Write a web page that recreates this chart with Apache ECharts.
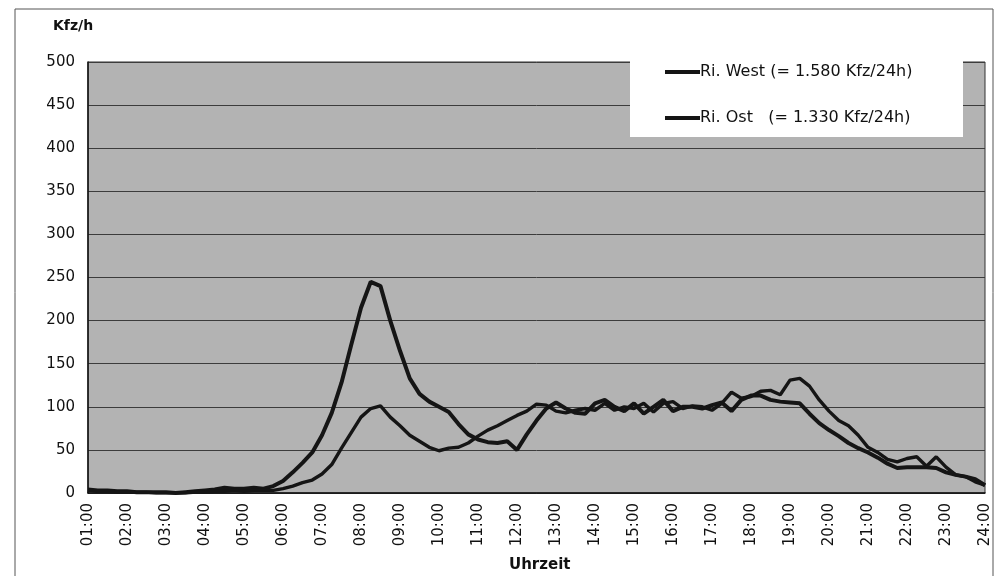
<!DOCTYPE html>
<html>
<head>
<meta charset="utf-8">
<script src="https://cdn.jsdelivr.net/npm/echarts@6/dist/echarts.min.js"></script>
<style>html,body{margin:0;padding:0;background:#fff}#c{width:1001px;height:581px}</style>
</head>
<body>
<div id="c"></div>
<script>
// 15-minute steps from 01:00 to 24:00
const times = [];
for (let h = 1; h <= 24; h++) {
  for (let q = 0; q < 4; q++) {
    if (h === 24 && q > 0) break;
    times.push(String(h).padStart(2, '0') + ':' + String(q * 15).padStart(2, '0'));
  }
}
const yTicks = [0, 50, 100, 150, 200, 250, 300, 350, 400, 450, 500];

const west = [
  4, 3, 3, 2, 2, 1, 1, 1, 1, 0, 1, 2, 3, 4, 6, 5, 5, 6, 5, 8,
  14, 24, 35, 47, 67, 93, 128, 172, 215, 245, 240, 200, 165, 133, 115, 106, 100, 94, 80, 68,
  62, 59, 58, 60, 50, 68, 84, 98, 105, 98, 93, 92, 104, 108, 100, 95, 104, 92, 100, 108,
  95, 100, 100, 98, 102, 105, 95, 108, 113, 113, 108, 106, 105, 104, 92, 81,
  73, 66, 58, 52, 47, 41, 34, 29, 30, 30, 30, 29, 24, 21, 19, 16, 9
];
const ost = [
  3, 2, 2, 1, 1, 1, 1, 0, 0, 0, 0, 1, 1, 2, 2, 3, 2, 3, 3, 3,
  5, 8, 12, 15, 22, 33, 52, 70, 88, 98, 101, 88, 78, 67, 60, 53, 49, 52, 53, 58,
  66, 73, 78, 84, 90, 95, 103, 102, 95, 93, 96, 98, 96, 104, 96, 100, 98, 104, 94, 104,
  106, 98, 101, 100, 96, 104, 117, 110, 112, 118, 119, 114, 131, 133, 124, 108,
  95, 84, 78, 67, 53, 47, 39, 36, 40, 42, 31, 42, 30, 21, 19, 13, 9
];
const seriesNames = ['Ri. West (= 1.580 Kfz/24h)', 'Ri. Ost   (= 1.330 Kfz/24h)'];

const chart = echarts.init(document.getElementById('c'));
const font = '"DejaVu Sans", sans-serif';
chart.setOption({
  animation: false,
  backgroundColor: '#fff',
  textStyle: { fontFamily: font },
  grid: {
    left: 88, right: 16, top: 62, bottom: 88,
    show: true, backgroundColor: '#b3b3b3', borderColor: '#333', borderWidth: 1
  },
  legend: {
    orient: 'vertical',
    left: 665, top: 64,
    padding: 0,
    itemGap: 30,
    itemWidth: 35, itemHeight: 4,
    icon: 'rect',
    z: 5,
    textStyle: { fontFamily: font, fontSize: 16, color: '#111', padding: [0, 0, 0, -5] },
    data: seriesNames
  },
  xAxis: {
    type: 'category',
    data: times,
    boundaryGap: false,
    axisLine: { lineStyle: { color: '#111', width: 1.5 } },
    axisTick: { show: false },
    axisLabel: {
      interval: 3, rotate: 90, color: '#111', fontSize: 15, fontFamily: font, margin: 10
    },
    splitLine: { show: false }
  },
  yAxis: {
    type: 'value',
    min: yTicks[0], max: yTicks[yTicks.length - 1], interval: 50,
    axisLine: { show: true, lineStyle: { color: '#111', width: 1.5 } },
    axisTick: { show: false },
    axisLabel: { color: '#111', fontSize: 15, fontFamily: font, margin: 13 },
    splitLine: { lineStyle: { color: '#3c3c3c', width: 1 } }
  },
  series: [
    {
      name: seriesNames[0], type: 'line', data: west, symbol: 'none',
      lineStyle: { color: '#151515', width: 4 }, itemStyle: { color: '#151515' }
    },
    {
      name: seriesNames[1], type: 'line', data: ost, symbol: 'none',
      lineStyle: { color: '#151515', width: 3.4 }, itemStyle: { color: '#151515' }
    }
  ],
  graphic: [
    {
      type: 'polyline', silent: true,
      shape: { points: [[15, 576], [15, 9], [993, 9], [993, 576]] },
      style: { fill: null, stroke: '#555', lineWidth: 1 }
    },
    {
      type: 'rect', silent: true, z: 3,
      shape: { x: 630, y: 55, width: 333, height: 82 },
      style: { fill: '#ffffff', stroke: null }
    },
    {
      type: 'text', left: 53, top: 19,
      style: { text: 'Kfz/h', font: 'bold 14px ' + font, fill: '#111' }
    },
    {
      type: 'text', left: 509, top: 558,
      style: { text: 'Uhrzeit', font: 'bold 15px ' + font, fill: '#111' }
    }
  ]
});
</script>
</body>
</html>
